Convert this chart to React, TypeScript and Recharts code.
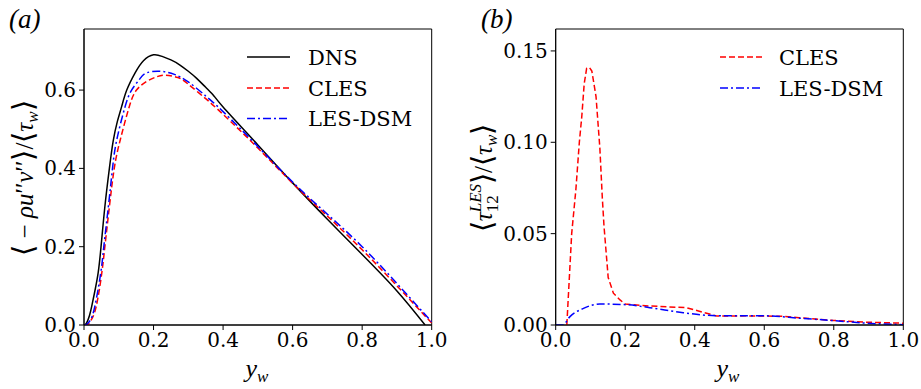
import React from 'react';
import { LineChart, Line, XAxis, YAxis, ReferenceArea } from 'recharts';

// ---- Panel (a) data ----
const dnsX = [0, 0.004, 0.01, 0.016, 0.022, 0.032, 0.041, 0.049, 0.06, 0.073, 0.084, 0.096, 0.108, 0.123, 0.147, 0.171, 0.2, 0.225, 0.25, 0.276, 0.3, 0.324, 0.35, 0.372, 0.4, 0.5, 0.6, 0.7, 0.8, 0.9, 0.981];
const dnsY = [0, 0.001, 0.01, 0.025, 0.047, 0.09, 0.135, 0.2, 0.302, 0.4, 0.47, 0.52, 0.557, 0.6, 0.644, 0.675, 0.69, 0.686, 0.677, 0.664, 0.648, 0.63, 0.607, 0.587, 0.557, 0.46, 0.363, 0.27, 0.18, 0.087, 0];

const clesAX = [0, 0.006, 0.012, 0.02, 0.035, 0.051, 0.06, 0.073, 0.087, 0.104, 0.13, 0.151, 0.18, 0.209, 0.235, 0.27, 0.3, 0.35, 0.4, 0.5, 0.6, 0.7, 0.8, 0.9, 1.0];
const clesAY = [0, 0, 0.002, 0.012, 0.047, 0.132, 0.2, 0.302, 0.4, 0.472, 0.557, 0.6, 0.622, 0.634, 0.638, 0.632, 0.615, 0.578, 0.538, 0.452, 0.362, 0.278, 0.192, 0.1, 0.005];

const dsmAX = [0, 0.004, 0.008, 0.018, 0.031, 0.048, 0.057, 0.07, 0.082, 0.094, 0.118, 0.137, 0.16, 0.18, 0.22, 0.26, 0.3, 0.35, 0.4, 0.5, 0.6, 0.7, 0.8, 0.9, 1.0];
const dsmAY = [0, 0, 0.002, 0.012, 0.047, 0.132, 0.2, 0.302, 0.4, 0.472, 0.557, 0.6, 0.628, 0.644, 0.648, 0.64, 0.621, 0.585, 0.545, 0.456, 0.365, 0.283, 0.2, 0.106, 0.008];

// ---- Panel (b) data ----
const clesBX = [0.032, 0.046, 0.058, 0.068, 0.075, 0.082, 0.089, 0.097, 0.104, 0.116, 0.127, 0.134, 0.139, 0.151, 0.166, 0.185, 0.2, 0.271, 0.376, 0.406, 0.463, 0.55, 0.65, 0.7, 0.8, 0.9, 1.0];
const clesBY = [0, 0.05, 0.074, 0.1, 0.114, 0.132, 0.1405, 0.141, 0.139, 0.125, 0.097, 0.07, 0.054, 0.026, 0.0174, 0.0137, 0.0115, 0.0104, 0.0095, 0.0079, 0.0049, 0.005, 0.0048, 0.004, 0.0025, 0.0015, 0.001];

const dsmBX = [0, 0.02, 0.041, 0.08, 0.127, 0.204, 0.271, 0.367, 0.463, 0.607, 0.703, 0.8, 0.895, 1.0];
const dsmBY = [0, 0, 0.0046, 0.0091, 0.0115, 0.0111, 0.0095, 0.0067, 0.0051, 0.005, 0.0037, 0.0024, 0.001, 0.0002];

const xTicks = [0, 0.2, 0.4, 0.6, 0.8, 1.0];
const yTicksA = [0, 0.2, 0.4, 0.6];
const yTicksB = [0, 0.05, 0.1, 0.15];

const legendA = ['DNS', 'CLES', 'LES-DSM'];
const legendB = ['CLES', 'LES-DSM'];

const zip = (xs: number[], ys: number[]) => xs.map((x, i) => ({ x, y: ys[i] }));

const dnsData = zip(dnsX, dnsY);
const clesAData = zip(clesAX, clesAY);
const dsmAData = zip(dsmAX, dsmAY);
const clesBData = zip(clesBX, clesBY);
const dsmBData = zip(dsmBX, dsmBY);

const tickFont = { fontFamily: 'DejaVu Serif', fontSize: 20, fill: '#000' };
const mathFont = 'Liberation Serif';

const RED_DASH = '6 3';
const BLUE_DASH = '8 3 2 3';

export default function App() {
  return (
    <div style={{ position: 'absolute', left: 0, top: 0, width: 921, height: 389, background: '#fff', overflow: 'hidden' }}>
      <div style={{ position: 'absolute', left: 0, top: 0 }}>
        <LineChart width={460} height={389} margin={{ top: 29, right: 28.3, bottom: 34, left: 0 }}>
          <XAxis
            dataKey="x"
            type="number"
            domain={[0, 1]}
            ticks={xTicks}
            allowDataOverflow
            tickFormatter={(v: number) => v.toFixed(1)}
            tick={tickFont}
            tickSize={5}
            tickMargin={3}
            height={30}
            stroke="#000"
          />
          <YAxis
            type="number"
            domain={[0, 0.756]}
            ticks={yTicksA}
            allowDataOverflow
            tickFormatter={(v: number) => v.toFixed(1)}
            tick={tickFont}
            tickSize={5}
            tickMargin={3}
            width={84}
            stroke="#000"
          />
          <ReferenceArea x1={0} x2={1} y1={0} y2={0.756} fill="none" stroke="#000" strokeWidth={1} ifOverflow="visible" />
          <Line data={dnsData} dataKey="y" type="natural" stroke="#000" strokeWidth={1.5} dot={false} isAnimationActive={false} />
          <Line data={clesAData} dataKey="y" type="natural" stroke="#ff0000" strokeWidth={1.5} strokeDasharray={RED_DASH} dot={false} isAnimationActive={false} />
          <Line data={dsmAData} dataKey="y" type="natural" stroke="#0000ff" strokeWidth={1.5} strokeDasharray={BLUE_DASH} dot={false} isAnimationActive={false} />
        </LineChart>
      </div>
      <div style={{ position: 'absolute', left: 460, top: 0 }}>
        <LineChart width={461} height={389} margin={{ top: 29, right: 17.7, bottom: 34, left: 0 }}>
          <XAxis
            dataKey="x"
            type="number"
            domain={[0, 1]}
            ticks={xTicks}
            allowDataOverflow
            tickFormatter={(v: number) => v.toFixed(1)}
            tick={tickFont}
            tickSize={5}
            tickMargin={3}
            height={30}
            stroke="#000"
          />
          <YAxis
            type="number"
            domain={[0, 0.162]}
            ticks={yTicksB}
            allowDataOverflow
            tickFormatter={(v: number) => v.toFixed(2)}
            tick={tickFont}
            tickSize={5}
            tickMargin={3}
            width={95.7}
            stroke="#000"
          />
          <ReferenceArea x1={0} x2={1} y1={0} y2={0.162} fill="none" stroke="#000" strokeWidth={1} ifOverflow="visible" />
          <Line data={clesBData} dataKey="y" type="linear" stroke="#ff0000" strokeWidth={1.5} strokeDasharray={RED_DASH} dot={false} isAnimationActive={false} />
          <Line data={dsmBData} dataKey="y" type="monotone" stroke="#0000ff" strokeWidth={1.5} strokeDasharray={BLUE_DASH} dot={false} isAnimationActive={false} />
        </LineChart>
      </div>
      <svg width={921} height={389} style={{ position: 'absolute', left: 0, top: 0, pointerEvents: 'none' }}>
        <text x={9} y={28} fontFamily={mathFont} fontStyle="italic" fontSize={27} fill="#000">(a)</text>
        <text x={481} y={28} fontFamily={mathFont} fontStyle="italic" fontSize={27} fill="#000">(b)</text>

        <text x={257} y={377} fontFamily={mathFont} fontStyle="italic" fontSize={26} fill="#000" textAnchor="middle">
          y<tspan fontSize={17} dy={5}>w</tspan>
        </text>
        <text x={728} y={377} fontFamily={mathFont} fontStyle="italic" fontSize={26} fill="#000" textAnchor="middle">
          y<tspan fontSize={17} dy={5}>w</tspan>
        </text>

        <g transform="translate(33,178) rotate(-90)">
          <text x={0} y={0} fontFamily={mathFont} fontSize={25} fill="#000" textAnchor="middle">
            <tspan fontSize={29}>⟨</tspan> − <tspan fontStyle="italic">ρu</tspan>′′<tspan fontStyle="italic">v</tspan>′′<tspan fontSize={29}>⟩</tspan>/<tspan fontSize={29}>⟨</tspan><tspan fontStyle="italic">τ</tspan><tspan fontStyle="italic" fontSize={17} dy={5}>w</tspan><tspan dy={-5} fontSize={29}>⟩</tspan>
          </text>
        </g>

        <g transform="translate(492,178) rotate(-90)">
          <text x={0} y={0} fontFamily={mathFont} fontSize={25} fill="#000" textAnchor="middle">
            <tspan fontSize={29}>⟨</tspan><tspan fontStyle="italic">τ</tspan><tspan fontSize={17} dy={6}>12</tspan><tspan fontSize={17} fontStyle="italic" dx={-17} dy={-17}>LES</tspan><tspan dy={11} fontSize={29}>⟩</tspan>/<tspan fontSize={29}>⟨</tspan><tspan fontStyle="italic">τ</tspan><tspan fontStyle="italic" fontSize={17} dy={5}>w</tspan><tspan dy={-5} fontSize={29}>⟩</tspan>
          </text>
        </g>

        <line x1={247} y1={57} x2={290} y2={57} stroke="#000" strokeWidth={1.5} />
        <line x1={247} y1={88} x2={290} y2={88} stroke="#ff0000" strokeWidth={1.5} strokeDasharray={RED_DASH} />
        <line x1={247} y1={118.5} x2={290} y2={118.5} stroke="#0000ff" strokeWidth={1.5} strokeDasharray={BLUE_DASH} />
        {legendA.map((t, i) => (
          <text key={t} x={308} y={[57, 88, 118.5][i] + 7.5} fontFamily="DejaVu Serif" fontSize={21} fill="#000">{t}</text>
        ))}

        <line x1={720} y1={57} x2={762} y2={57} stroke="#ff0000" strokeWidth={1.5} strokeDasharray={RED_DASH} />
        <line x1={720} y1={88} x2={762} y2={88} stroke="#0000ff" strokeWidth={1.5} strokeDasharray={BLUE_DASH} />
        {legendB.map((t, i) => (
          <text key={t} x={779} y={[57, 88][i] + 7.5} fontFamily="DejaVu Serif" fontSize={21} fill="#000">{t}</text>
        ))}
      </svg>
    </div>
  );
}
